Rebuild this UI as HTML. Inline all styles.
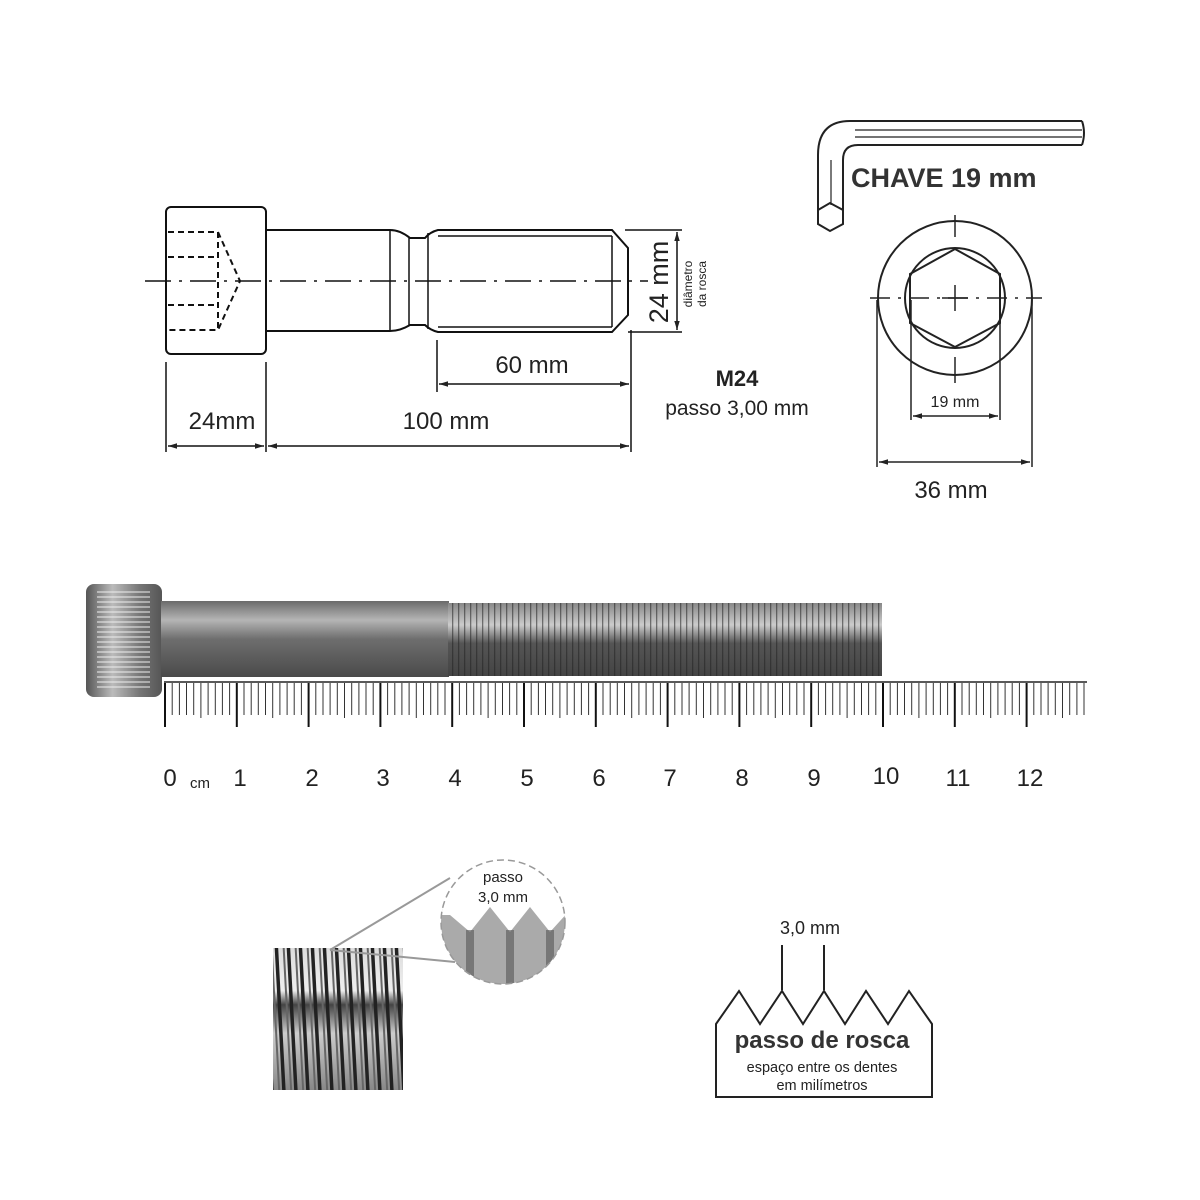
<!DOCTYPE html>
<html><head><meta charset="utf-8"><style>
html,body{margin:0;padding:0;background:#fff;}
svg{display:block;font-family:"Liberation Sans",Arial,sans-serif;}
</style></head><body>
<svg width="1200" height="1200" viewBox="0 0 1200 1200" xmlns="http://www.w3.org/2000/svg">
<defs>
<marker id="a" viewBox="0 0 10 10" refX="10" refY="5" markerWidth="9" markerHeight="6" orient="auto-start-reverse"><path d="M0,2 L10,5 L0,8 z" fill="#222"/></marker>
<linearGradient id="sh" x1="0" y1="0" x2="0" y2="1">
<stop offset="0" stop-color="#6a6a6a"/><stop offset="0.25" stop-color="#b5b5b5"/><stop offset="0.5" stop-color="#6e6e6e"/><stop offset="1" stop-color="#4a4a4a"/></linearGradient>
<linearGradient id="hd" x1="0" y1="0" x2="1" y2="0">
<stop offset="0" stop-color="#555"/><stop offset="0.35" stop-color="#bbb"/><stop offset="0.7" stop-color="#777"/><stop offset="1" stop-color="#555"/></linearGradient>
<linearGradient id="th" x1="0" y1="0" x2="0" y2="1">
<stop offset="0" stop-color="#888"/><stop offset="0.3" stop-color="#ccc"/><stop offset="0.55" stop-color="#555"/><stop offset="1" stop-color="#444"/></linearGradient>
<pattern id="tp" x="448" width="6" height="10" patternUnits="userSpaceOnUse"><rect x="4" width="1.3" height="10" fill="#222" opacity="0.55"/></pattern>
<linearGradient id="bg" x1="0" y1="0" x2="0" y2="1">
<stop offset="0" stop-color="#ddd"/><stop offset="0.3" stop-color="#eee"/><stop offset="0.4" stop-color="#444"/><stop offset="0.6" stop-color="#ccc"/><stop offset="1" stop-color="#888"/></linearGradient>
<pattern id="bt" x="273" width="12" height="150" patternUnits="userSpaceOnUse" patternTransform="skewX(3)"><rect x="0" width="3.5" height="150" fill="#222"/><rect x="8" width="2" height="150" fill="#666"/></pattern>
<clipPath id="cc"><circle cx="503" cy="922" r="62"/></clipPath>
</defs>

<g fill="none" stroke="#111" stroke-width="2">
<rect x="166" y="207" width="100" height="147" rx="5"/>
<path d="M266,230 H390 Q400,230 410,238 H425 Q430,232 438,230 H612 L628,248 V315 L612,332 H438 Q430,330 425,325 H410 Q400,331 390,331 H266"/>
<line x1="390" y1="230" x2="390" y2="331" stroke-width="1.5"/>
<line x1="409" y1="238" x2="409" y2="325" stroke-width="1.5"/>
<line x1="428" y1="233" x2="428" y2="329" stroke-width="1.5"/>
<line x1="438" y1="236" x2="612" y2="236" stroke-width="1.5"/>
<line x1="438" y1="327" x2="612" y2="327" stroke-width="1.5"/>
<line x1="612" y1="236" x2="612" y2="327" stroke-width="1.5"/>
</g>
<g fill="none" stroke="#111" stroke-width="2" stroke-dasharray="6,4">
<path d="M168,232 H218 L240,281 L218,330 H168"/>
<line x1="168" y1="257" x2="218" y2="257"/><line x1="168" y1="305" x2="218" y2="305"/>
<line x1="218" y1="232" x2="218" y2="330"/>
</g>
<line x1="145" y1="281" x2="648" y2="281" stroke="#111" stroke-width="1.5" stroke-dasharray="26,8,3,8"/>
<g stroke="#111" stroke-width="1.5" fill="none">
<line x1="166" y1="362" x2="166" y2="452"/><line x1="266" y1="362" x2="266" y2="452"/>
<line x1="437" y1="340" x2="437" y2="392"/><line x1="631" y1="330" x2="631" y2="452"/>
<line x1="168" y1="446" x2="264" y2="446" marker-start="url(#a)" marker-end="url(#a)"/>
<line x1="268" y1="446" x2="629" y2="446" marker-start="url(#a)" marker-end="url(#a)"/>
<line x1="439" y1="384" x2="629" y2="384" marker-start="url(#a)" marker-end="url(#a)"/>
<line x1="625" y1="230" x2="682" y2="230"/><line x1="628" y1="332" x2="682" y2="332"/>
<line x1="677" y1="232" x2="677" y2="330" marker-start="url(#a)" marker-end="url(#a)"/>
</g>
<g fill="#222" text-anchor="middle">
<text x="222" y="429" font-size="24">24mm</text>
<text x="446" y="429" font-size="24">100 mm</text>
<text x="532" y="373" font-size="24">60 mm</text>
<text transform="translate(668,282) rotate(-90)" font-size="27">24 mm</text>
<text transform="translate(692,284) rotate(-90)" font-size="12">diâmetro</text>
<text transform="translate(706,284) rotate(-90)" font-size="12">da rosca</text>
<text x="737" y="386" font-size="22" font-weight="bold">M24</text>
<text x="737" y="415" font-size="21">passo 3,00 mm</text>
</g>

<g fill="none" stroke="#222" stroke-width="2">
<path d="M1082,121 H850 Q818,121 818,155 V210"/>
<path d="M1082,145 H858 Q843,145 843,160 V210"/>
<path d="M1082,121 Q1086,133 1082,145"/>
<line x1="855" y1="130" x2="1082" y2="130" stroke-width="1.2"/>
<line x1="855" y1="137" x2="1082" y2="137" stroke-width="1.2"/>
<line x1="831" y1="160" x2="831" y2="205" stroke-width="1.2"/>
<path d="M818,210 L830,203 L843,210 V224 L830,231 L818,224 Z"/>
</g>
<text x="851" y="187" font-size="27" font-weight="bold" fill="#333">CHAVE 19 mm</text>

<g fill="none" stroke="#222" stroke-width="2">
<circle cx="955" cy="298" r="77"/>
<circle cx="955" cy="298" r="50"/>
<path d="M955,249 L1000,274 V323 L955,347 L910,323 V274 Z"/>
</g>
<g stroke="#222" stroke-width="1.5" fill="none">
<line x1="870" y1="298" x2="1042" y2="298" stroke-dasharray="20,8,3,8"/>
<line x1="955" y1="215" x2="955" y2="237"/><line x1="955" y1="357" x2="955" y2="383"/>
<line x1="955" y1="285" x2="955" y2="311"/><line x1="942" y1="298" x2="968" y2="298"/>
<line x1="911" y1="300" x2="911" y2="420"/><line x1="1000" y1="300" x2="1000" y2="420"/>
<line x1="913" y1="416" x2="998" y2="416" marker-start="url(#a)" marker-end="url(#a)"/>
<line x1="877" y1="300" x2="877" y2="467"/><line x1="1032" y1="300" x2="1032" y2="467"/>
<line x1="879" y1="462" x2="1030" y2="462" marker-start="url(#a)" marker-end="url(#a)"/>
</g>
<text x="955" y="407" font-size="16" fill="#222" text-anchor="middle">19 mm</text>
<text x="951" y="498" font-size="24" fill="#222" text-anchor="middle">36 mm</text>

<rect x="86" y="584" width="76" height="113" rx="8" fill="url(#hd)"/>
<g stroke="#eee" stroke-width="1" id="hl"></g>
<rect x="161" y="601" width="288" height="76" fill="url(#sh)"/>
<rect x="448" y="603" width="434" height="73" fill="url(#th)"/>
<rect x="448" y="603" width="434" height="73" fill="url(#tp)"/>

<line x1="164" y1="682" x2="1087" y2="682" stroke="#222" stroke-width="1.5"/>
<g id="rul" stroke="#333" stroke-width="1"></g>
<g font-size="24" fill="#222" text-anchor="middle">
<text x="170" y="786">0</text><text x="200" y="788" font-size="15">cm</text>
<text x="240" y="786">1</text><text x="312" y="786">2</text><text x="383" y="786">3</text><text x="455" y="786">4</text><text x="527" y="786">5</text><text x="599" y="786">6</text><text x="670" y="786">7</text><text x="742" y="786">8</text><text x="814" y="786">9</text><text x="886" y="784">10</text><text x="958" y="786">11</text><text x="1030" y="786">12</text>
</g>

<rect x="273" y="948" width="130" height="142" fill="url(#bg)"/>
<rect x="273" y="948" width="130" height="142" fill="url(#bt)"/>
<line x1="330" y1="950" x2="450" y2="878" stroke="#999" stroke-width="2"/>
<line x1="330" y1="950" x2="455" y2="962" stroke="#999" stroke-width="2"/>
<circle cx="503" cy="922" r="62" fill="#fff"/>
<g clip-path="url(#cc)">
<rect x="430" y="905" width="150" height="90" fill="#aaa"/>
<path d="M430,915 L450,915 L470,932 L490,907 L510,932 L530,907 L550,932 L570,910 L580,910 V895 H430Z" fill="#fff"/>
<g fill="#555" opacity="0.6"><rect x="466" y="930" width="8" height="70"/><rect x="506" y="930" width="8" height="70"/><rect x="546" y="930" width="8" height="70"/></g>
</g>
<circle cx="503" cy="922" r="62" fill="none" stroke="#999" stroke-width="1.5" stroke-dasharray="7,4"/>
<text x="503" y="882" font-size="15" fill="#222" text-anchor="middle">passo</text>
<text x="503" y="902" font-size="15" fill="#222" text-anchor="middle">3,0 mm</text>

<path d="M716,1097 V1024 L739,991 L760,1024 L782,991 L803,1024 L824,991 L845,1024 L866,991 L888,1024 L909,991 L932,1024 V1097 Z" fill="none" stroke="#222" stroke-width="2"/>
<line x1="782" y1="945" x2="782" y2="990" stroke="#222" stroke-width="2"/>
<line x1="824" y1="945" x2="824" y2="990" stroke="#222" stroke-width="2"/>
<text x="810" y="934" font-size="18" fill="#222" text-anchor="middle">3,0 mm</text>
<text x="822" y="1048" font-size="24" font-weight="bold" fill="#333" text-anchor="middle">passo de rosca</text>
<text x="822" y="1072" font-size="14.5" fill="#222" text-anchor="middle">espaço entre os dentes</text>
<text x="822" y="1090" font-size="14.5" fill="#222" text-anchor="middle">em milímetros</text>
</svg>
<script>
var g=document.getElementById('rul'),s='';
for(var i=0;i<=128;i++){var x=165+i*7.18;if(x>1087)break;var L=(i%10==0)?727:(i%5==0?718:715);
s+='<line x1="'+x.toFixed(1)+'" y1="683" x2="'+x.toFixed(1)+'" y2="'+L+'"'+(i%10==0?' stroke-width="2" stroke="#111"':'')+'/>';}
g.innerHTML=s;
var h='';for(var y=592;y<=688;y+=5)h+='<line x1="97" y1="'+y+'" x2="150" y2="'+y+'"/>';
document.getElementById('hl').innerHTML=h;
</script>
</body></html>
